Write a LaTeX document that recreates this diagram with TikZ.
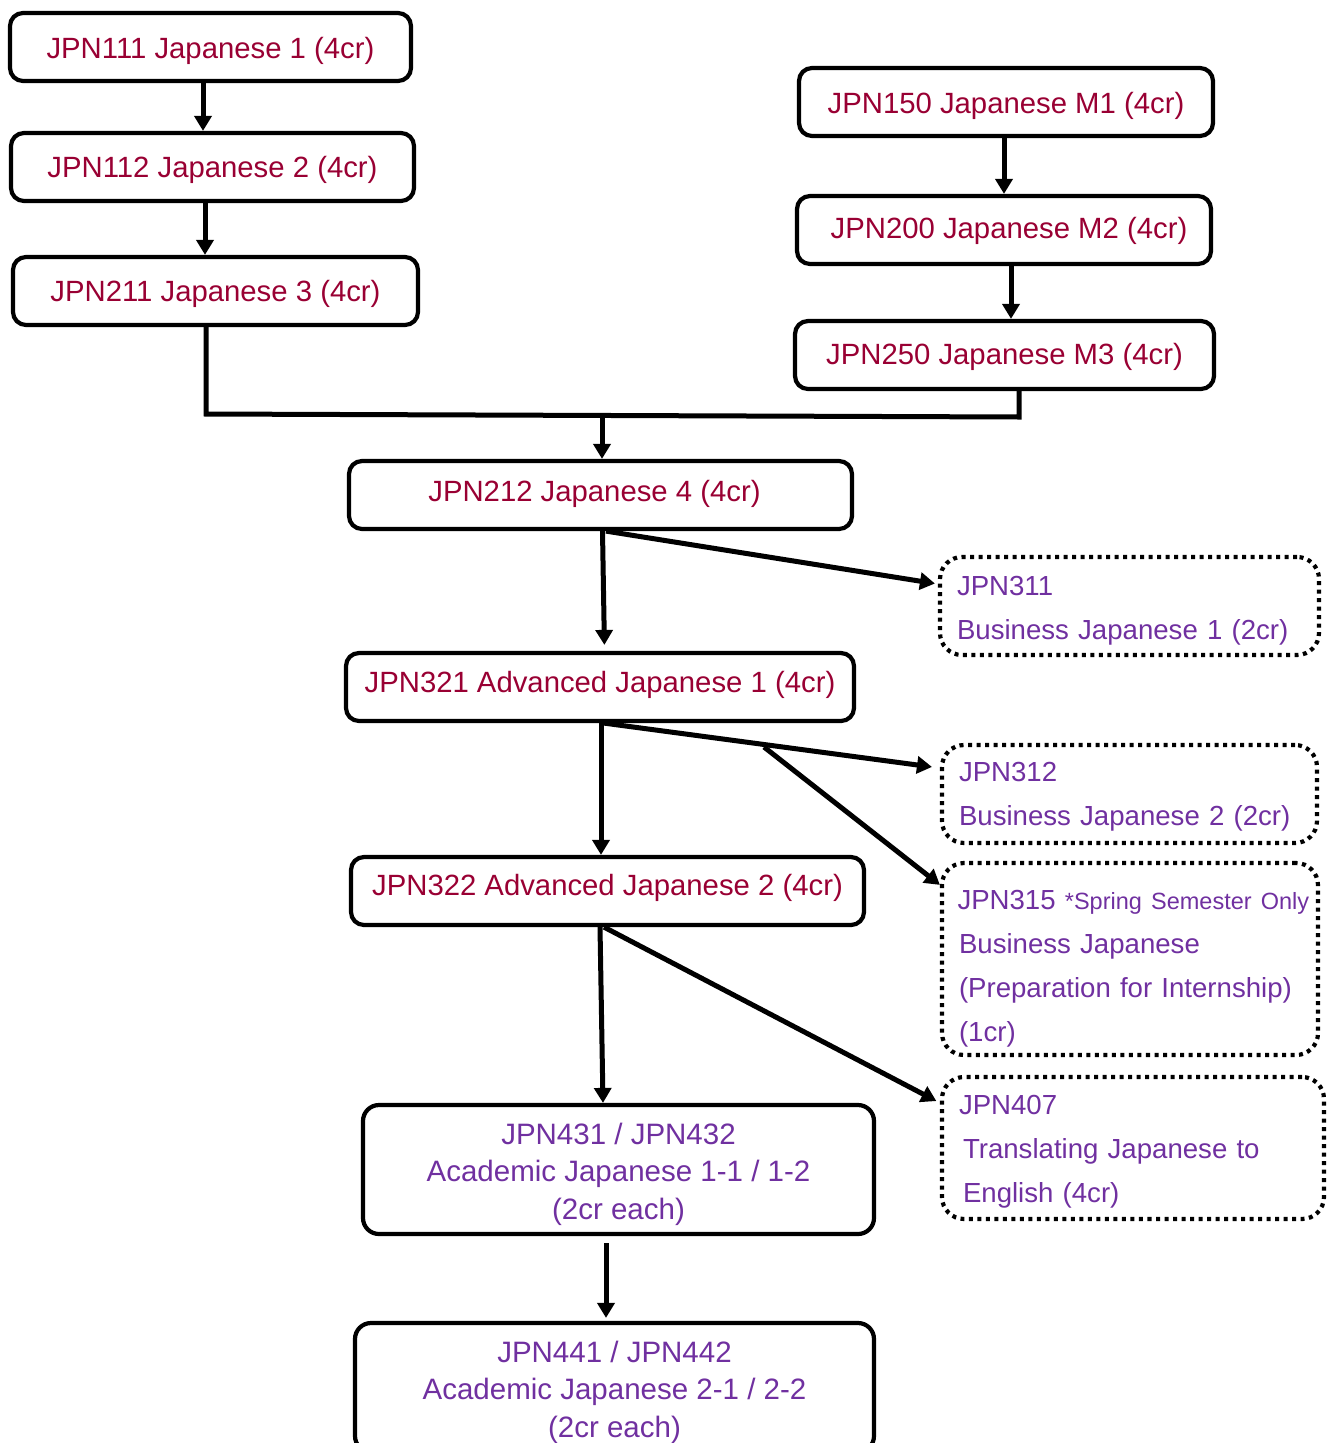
\documentclass[tikz,border=0pt]{standalone}
\usepackage{fontspec}
\setmainfont{Liberation Sans}
\usetikzlibrary{arrows.meta}
\definecolor{jred}{RGB}{153,0,51}
\definecolor{jpur}{RGB}{112,48,160}
\begin{document}
\begin{tikzpicture}[x=1pt,y=-1pt,
 redbox/.style={draw, line width=4.2pt, rounded corners=13pt, minimum height=68pt, inner sep=0pt, text=jred, text height=22pt, text depth=0pt, font=\fontsize{29.3}{34}\selectfont},
 purbox/.style={draw, line width=4.2pt, rounded corners=16pt, minimum height=129pt, inner sep=0pt, text=jpur, align=center, font=\fontsize{29.5}{37.5}\selectfont},
 dotbox/.style={draw, line width=4.2pt, dash pattern=on 4pt off 4.5pt, rounded corners=22pt, inner xsep=17pt, inner ysep=0pt, align=left, text=jpur, font=\fontsize{27.6}{44}\selectfont},
 arr/.style={line width=5pt, -{Triangle[length=15pt,width=17pt]}},
 link/.style={line width=5pt}]
\useasboundingbox (0,0) rectangle (1329,1443);
\clip (0,0) rectangle (1329,1443);
% left column
\node[redbox, minimum width=401pt] (A1) at (210.5,47) {JPN111 Japanese 1 (4cr)};
\node[redbox, minimum width=403pt, text height=21.8pt] (A2) at (212.5,167) {JPN112 Japanese 2 (4cr)};
\node[redbox, minimum width=405pt, text height=21pt] (A3) at (215.5,291) {JPN211 Japanese 3 (4cr)};
% right column
\node[redbox, minimum width=414pt, text height=23pt] (M1) at (1006,102) {JPN150 Japanese M1 (4cr)};
\node[redbox, minimum width=414pt, text height=17.8pt] (M2) at (1004,230) {\hspace*{10pt}JPN200 Japanese M2 (4cr)};
\node[redbox, minimum width=419pt, text height=19.4pt] (M3) at (1004.5,355) {JPN250 Japanese M3 (4cr)};
% centre
\node[redbox, minimum width=503pt, text height=12pt] (J4) at (600.5,495) {\hspace*{-12pt}JPN212 Japanese 4 (4cr)};
\node[redbox, minimum width=508pt, text height=10.4pt] (A321) at (600,687) {JPN321 Advanced Japanese 1 (4cr)};
\node[redbox, minimum width=513pt, text height=9pt] (A322) at (607.5,891) {JPN322 Advanced Japanese 2 (4cr)};
\node[purbox, minimum width=511pt] (AC1) at (618.5,1169.5) {\rule{0pt}{30.2pt}JPN431 / JPN432\\Academic Japanese 1-1 / 1-2\\(2cr each)};
\node[purbox, minimum width=519pt] (AC2) at (614.5,1387.5) {\rule{0pt}{30.2pt}JPN441 / JPN442\\Academic Japanese 2-1 / 2-2\\(2cr each)};
% dotted boxes
\node[dotbox, minimum width=379pt, minimum height=98pt, text width=345pt] (B311) at (1129.5,606) {\rule{0pt}{27.9pt}JPN311\\Business Japanese 1 (2cr)};
\node[dotbox, minimum width=375pt, minimum height=98pt, text width=341pt] (B312) at (1129.5,794) {\rule{0pt}{23.9pt}JPN312\\Business Japanese 2 (2cr)};
\node[dotbox, minimum width=376pt, minimum height=192pt, text width=342pt] (B315) at (1130,959) {\mbox{\rule{0pt}{37.9pt}\hspace*{-1.5pt}JPN315 {\fontsize{23.5}{44}\selectfont *Spring Semester Only}}\\Business Japanese\\(Preparation for Internship)\\(1cr)};
\node[dotbox, minimum width=382pt, minimum height=142pt, text width=348pt] (B407) at (1133,1148) {\rule{0pt}{25.9pt}JPN407\\\hspace*{4pt}Translating Japanese to\\\hspace*{4pt}English (4cr)};
% connectors
\draw[arr] ([xshift=-7.5pt]A1.south) -- ([xshift=-7.5pt]A1.south |- A2.north);
\draw[arr] ([xshift=-7.5pt]A2.south) -- ([xshift=-7.5pt]A2.south |- A3.north);
\draw[arr] ([xshift=-2pt]M1.south) -- ([xshift=-2pt]M1.south |- M2.north);
\draw[arr] ([xshift=7pt]M2.south) -- ([xshift=7pt]M2.south |- M3.north);
\coordinate (jl) at (206,414);
\coordinate (jr) at (1019,417);
\coordinate (jm) at (602,415.5);
\draw[link] (jl |- A3.south) -- (jl) -- (jr) -- (jr |- M3.south);
\draw[arr] (jm) -- (jm |- J4.north);
\draw[arr, shorten >=6pt] ([xshift=2pt]J4.south) -- ([xshift=4pt]J4.south |- A321.north);
\draw[arr, shorten >=3pt] ([xshift=5.5pt]J4.south) -- ([yshift=22pt]B311.west);
\draw[arr] ([xshift=1pt]A321.south) -- ([xshift=1pt]A321.south |- A322.north);
\draw[arr, shorten >=8pt] ([xshift=4pt]A321.south) -- ([yshift=26pt]B312.west);
\coordinate (br) at (764,747);
\draw[arr] (br) -- ([yshift=-24pt]B315.north west);
\draw[arr] ([xshift=-7.5pt]A322.south) -- ([xshift=-4.5pt]A322.south |- AC1.north);
\draw[arr, shorten >=4pt] ([xshift=-3.5pt]A322.south) -- ([yshift=-28pt]B407.north west);
\draw[arr, shorten >=3pt] ([xshift=-12.5pt,yshift=-7pt]AC1.south) -- ([xshift=-12.5pt]AC1.south |- AC2.north);
\end{tikzpicture}
\end{document}
